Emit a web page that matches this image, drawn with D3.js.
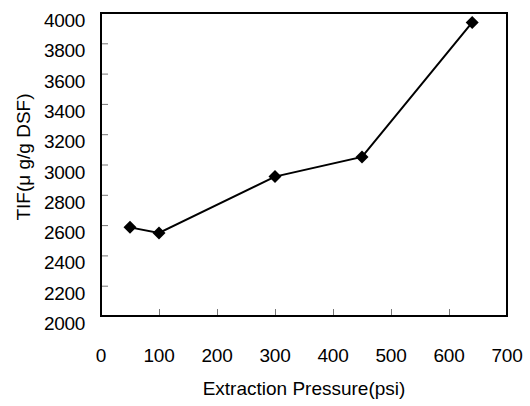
<!DOCTYPE html>
<html>
<head>
<meta charset="utf-8">
<script src="https://cdn.jsdelivr.net/npm/d3@7"></script>
<style>
  body { margin: 0; background: #fff; }
  text { font-family: "Liberation Sans", Arial, sans-serif; fill: #000; }
</style>
</head>
<body>
<div id="chart"></div>
<script>
// data
var pressure = [50, 100, 300, 450, 640];
var tif = [2585, 2548, 2920, 3050, 3938];
var xTicks = [0, 100, 200, 300, 400, 500, 600, 700];
var yTicks = [2000, 2200, 2400, 2600, 2800, 3000, 3200, 3400, 3600, 3800, 4000];

var svgWidth = 530, svgHeight = 406;
var margin = {top: 13, right: 23, bottom: 90, left: 101};
var width = svgWidth - margin.left - margin.right;
var height = svgHeight - margin.top - margin.bottom;

var svg = d3.select("#chart")
  .append("svg")
  .attr("width", svgWidth)
  .attr("height", svgHeight);

var chartGroup = svg.append("g")
  .attr("transform", `translate(${margin.left}, ${margin.top})`);

var xScale = d3.scaleLinear().domain([0, 700]).range([0, width]);
var yScale = d3.scaleLinear().domain([2000, 4000]).range([height, 0]);

// inward ticks
var xAxis = d3.axisTop(xScale).tickValues(xTicks).tickSize(7).tickFormat("");
chartGroup.append("g")
  .attr("transform", `translate(0, ${height})`)
  .call(xAxis)
  .call(g => g.select(".domain").remove())
  .call(g => g.selectAll("line").attr("stroke", "#777").attr("stroke-width", 1));

var yAxis = d3.axisRight(yScale).tickValues(yTicks).tickSize(7).tickFormat("");
chartGroup.append("g")
  .call(yAxis)
  .call(g => g.select(".domain").remove())
  .call(g => g.selectAll("line").attr("stroke", "#777").attr("stroke-width", 1));

// tick labels
chartGroup.selectAll(".xlab")
  .data(xTicks)
  .enter()
  .append("text")
  .attr("x", d => xScale(d))
  .attr("y", height + 46)
  .style("font-size", "19px")
  .style("letter-spacing", "-0.3px")
  .style("text-anchor", "middle")
  .text(d => d);

chartGroup.selectAll(".ylab")
  .data(yTicks)
  .enter()
  .append("text")
  .attr("x", -16)
  .attr("y", d => yScale(d) + 14)
  .style("font-size", "19px")
  .style("letter-spacing", "-0.3px")
  .style("text-anchor", "end")
  .text(d => d);

// frame
chartGroup.append("rect")
  .attr("width", width)
  .attr("height", height)
  .attr("fill", "none")
  .attr("stroke", "#000")
  .attr("stroke-width", 2);

// series
var pts = pressure.map((p, i) => [p, tif[i]]);
var line = d3.line().x(d => xScale(d[0])).y(d => yScale(d[1]));
chartGroup.append("path")
  .datum(pts)
  .attr("d", line)
  .attr("fill", "none")
  .attr("stroke", "#000")
  .attr("stroke-width", 2);

chartGroup.selectAll(".pt")
  .data(pts)
  .enter()
  .append("path")
  .attr("transform", d => `translate(${xScale(d[0])}, ${yScale(d[1])})`)
  .attr("d", "M0,-6.5L6.5,0L0,6.5L-6.5,0Z")
  .attr("fill", "#000");

// axis titles
svg.append("text")
  .attr("x", margin.left + width / 2)
  .attr("y", 395)
  .style("font-size", "19px")
  .style("text-anchor", "middle")
  .text("Extraction Pressure(psi)");

svg.append("text")
  .attr("transform", `translate(30, ${157}) rotate(-90)`)
  .style("font-size", "19px")
  .style("text-anchor", "middle")
  .text("TIF(μ g/g DSF)");
</script>
</body>
</html>
